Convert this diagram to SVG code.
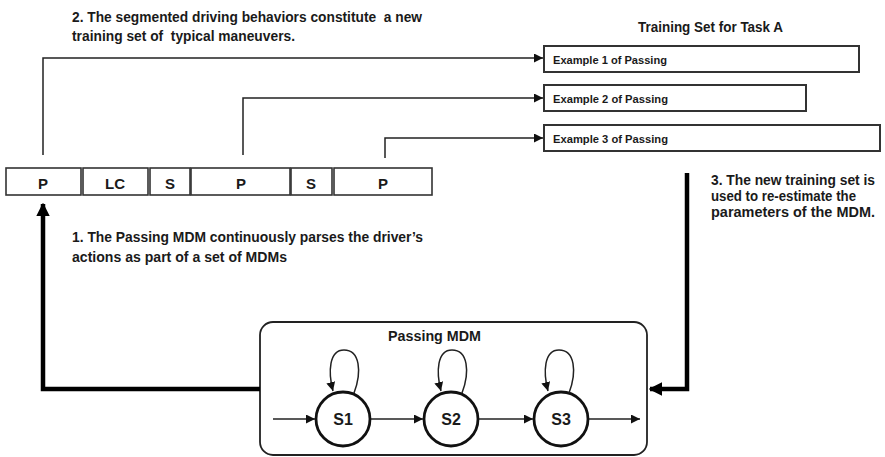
<svg xmlns="http://www.w3.org/2000/svg" width="885" height="457" viewBox="0 0 885 457">
  <style>
    text { font-family: "Liberation Sans", Arial, sans-serif; font-weight: bold; fill: #1a1a1a; }
    .note { font-size: 15px; white-space: pre; }
    .note3 { font-size: 14px; }
    .seg { font-size: 15px; text-anchor: middle; }
    .ex { font-size: 11px; }
    .state-label { font-size: 16px; text-anchor: middle; }
    .box { fill: #fff; stroke: #333; stroke-width: 2; }
    .segbox { fill: #fff; stroke: #333; stroke-width: 1.6; }
    .thin { fill: none; stroke: #222; stroke-width: 1.5; }
    .thick { fill: none; stroke: #000; stroke-width: 4.5; }
    .state { fill: #fff; stroke: #111; stroke-width: 2.8; }
  </style>
  <defs>
    <marker id="arr" viewBox="0 0 10 10" refX="10" refY="5" markerWidth="6" markerHeight="6" markerUnits="strokeWidth" orient="auto">
      <path d="M0,0 L10,5 L0,10 z" fill="#111"/>
    </marker>
    <marker id="arrBig" viewBox="0 0 10 10" refX="9" refY="5" markerWidth="3" markerHeight="3" markerUnits="strokeWidth" orient="auto">
      <path d="M0,0 L10,5 L0,10 z" fill="#000"/>
    </marker>
  </defs>

  <!-- annotations -->
  <g id="note-2">
    <text class="note" x="72" y="22" textLength="350" lengthAdjust="spacingAndGlyphs">2. The segmented driving behaviors constitute  a new</text>
    <text class="note" x="72" y="41" textLength="223" lengthAdjust="spacingAndGlyphs">training set of  typical maneuvers.</text>
  </g>
  <g id="note-1">
    <text class="note" x="72" y="242" textLength="351" lengthAdjust="spacingAndGlyphs">1. The Passing MDM continuously parses the driver’s</text>
    <text class="note" x="72" y="262" textLength="215" lengthAdjust="spacingAndGlyphs">actions as part of a set of MDMs</text>
  </g>
  <g id="note-3">
    <text class="note3" x="711" y="185" textLength="164" lengthAdjust="spacingAndGlyphs">3. The new training set is</text>
    <text class="note3" x="711" y="201" textLength="145" lengthAdjust="spacingAndGlyphs">used to re-estimate the</text>
    <text class="note3" x="711" y="217" textLength="164" lengthAdjust="spacingAndGlyphs">parameters of the MDM.</text>
  </g>

  <!-- training set -->
  <g id="training-set">
    <text class="note" x="638" y="32" textLength="145" lengthAdjust="spacingAndGlyphs">Training Set for Task A</text>
  </g>
  <g id="example-1">
    <rect class="box" x="544" y="46" width="315" height="26"/>
    <text class="ex" x="553" y="64" textLength="114" lengthAdjust="spacingAndGlyphs">Example 1 of Passing</text>
  </g>
  <g id="example-2">
    <rect class="box" x="544" y="85" width="262" height="26"/>
    <text class="ex" x="553" y="103" textLength="115" lengthAdjust="spacingAndGlyphs">Example 2 of Passing</text>
  </g>
  <g id="example-3">
    <rect class="box" x="544" y="125" width="336" height="26"/>
    <text class="ex" x="553" y="143" textLength="115" lengthAdjust="spacingAndGlyphs">Example 3 of Passing</text>
  </g>

  <!-- segmented driving sequence -->
  <g id="segments">
    <g id="seg-p1"><rect class="segbox" x="6" y="168" width="75" height="27"/><text class="seg" x="43" y="189">P</text></g>
    <g id="seg-lc"><rect class="segbox" x="83" y="168" width="65" height="27"/><text class="seg" x="115" y="189">LC</text></g>
    <g id="seg-s1"><rect class="segbox" x="150" y="168" width="40" height="27"/><text class="seg" x="170" y="189">S</text></g>
    <g id="seg-p2"><rect class="segbox" x="191" y="168" width="99" height="27"/><text class="seg" x="241" y="189">P</text></g>
    <g id="seg-s2"><rect class="segbox" x="291" y="168" width="41" height="27"/><text class="seg" x="311" y="189">S</text></g>
    <g id="seg-p3"><rect class="segbox" x="334" y="168" width="98" height="27"/><text class="seg" x="383" y="189">P</text></g>
  </g>

  <!-- Passing MDM -->
  <g id="passing-mdm">
    <rect x="260" y="322" width="387" height="133" rx="13" ry="13" fill="#fff" stroke="#222" stroke-width="1.8"/>
    <text x="388" y="341" font-size="14" textLength="93" lengthAdjust="spacingAndGlyphs">Passing MDM</text>
  </g>
  <g id="state-s1">
    <circle class="state" cx="343" cy="419" r="27"/>
    <text class="state-label" x="343" y="425">S1</text>
  </g>
  <g id="state-s2">
    <circle class="state" cx="451" cy="419" r="27"/>
    <text class="state-label" x="451" y="425">S2</text>
  </g>
  <g id="state-s3">
    <circle class="state" cx="561" cy="419" r="27"/>
    <text class="state-label" x="561" y="425">S3</text>
  </g>

  <!-- connectors -->
  <g id="connectors">
    <!-- segments to training examples -->
    <path class="thin" d="M43,155 V58 H543" marker-end="url(#arr)"/>
    <path class="thin" d="M243,155 V98 H543" marker-end="url(#arr)"/>
    <path class="thin" d="M385,158 V138 H543" marker-end="url(#arr)"/>

    <!-- MDM parses driver actions -->
    <path class="thick" d="M260,389 H43 V204" marker-end="url(#arrBig)"/>
    <!-- training set back to MDM -->
    <path class="thick" d="M687,173 V389 H650" marker-end="url(#arrBig)"/>

    <!-- state transitions -->
    <path class="thin" d="M273,419 H315" marker-end="url(#arr)"/>
    <path class="thin" d="M371,419 H423" marker-end="url(#arr)"/>
    <path class="thin" d="M479,419 H533" marker-end="url(#arr)"/>
    <path class="thin" d="M589,419 H640" marker-end="url(#arr)"/>

    <!-- self loops -->
    <path class="thin" d="M354,393 C362,372 360,350 344,350 C329,350 328,372 333,391" marker-end="url(#arr)"/>
    <path class="thin" d="M462,393 C470,372 468,350 452,350 C437,350 436,372 441,391" marker-end="url(#arr)"/>
    <path class="thin" d="M569,393 C577,372 575,350 559,350 C544,350 543,372 548,391" marker-end="url(#arr)"/>
  </g>
</svg>
